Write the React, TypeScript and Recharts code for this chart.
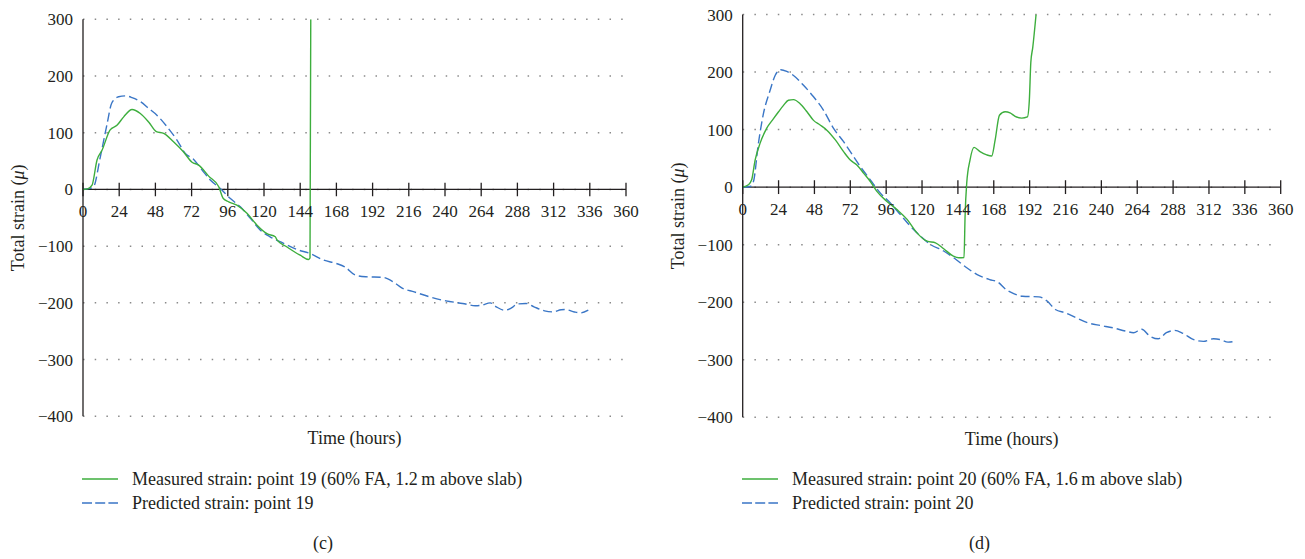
import React from 'react';
import { LineChart, Line, XAxis, YAxis, CartesianGrid, ReferenceLine, Legend } from 'recharts';

// ---------- axis values ----------
const TIME_TICKS = [0, 24, 48, 72, 96, 120, 144, 168, 192, 216, 240, 264, 288, 312, 336, 360];
const STRAIN_TICKS = [-400, -300, -200, -100, 0, 100, 200, 300];
const TIME_DOMAIN: [number, number] = [0, 360];
const STRAIN_DOMAIN: [number, number] = [-400, 300];

// ---------- series (t = hours, v = microstrain) ----------
const measured19 = [
  { t: 0, v: 0 }, { t: 3, v: 1 }, { t: 6, v: 7.6 }, { t: 9.3, v: 52 }, { t: 12.6, v: 69 },
  { t: 18, v: 105 }, { t: 22.5, v: 113 }, { t: 27, v: 128 }, { t: 32.5, v: 141 }, { t: 38, v: 134 },
  { t: 43.5, v: 119 }, { t: 48.6, v: 102 }, { t: 53.5, v: 99 }, { t: 60, v: 84 }, { t: 66.7, v: 66 },
  { t: 72.3, v: 48 }, { t: 76.7, v: 43 }, { t: 83.3, v: 23.5 }, { t: 90, v: 4.7 }, { t: 93, v: -16 },
  { t: 96.6, v: -21.8 }, { t: 102, v: -27.6 }, { t: 108.7, v: -42 }, { t: 115.4, v: -63 }, { t: 122, v: -78 },
  { t: 127.5, v: -83.5 }, { t: 128.6, v: -89 }, { t: 135, v: -101 }, { t: 144, v: -116 }, { t: 149.6, v: -123.5 },
  { t: 150.5, v: -121 }, { t: 151, v: 300 },
];

const predicted19 = [
  { t: 0, v: 0 }, { t: 4.9, v: 1.8 }, { t: 7, v: 4.7 }, { t: 11.5, v: 57.6 }, { t: 16, v: 116 },
  { t: 19, v: 152 }, { t: 23.6, v: 163.5 }, { t: 28, v: 165 }, { t: 32.5, v: 162 }, { t: 38, v: 155 },
  { t: 43.5, v: 143 }, { t: 49, v: 131 }, { t: 55.7, v: 110.6 }, { t: 62.3, v: 87 }, { t: 67.8, v: 63.5 },
  { t: 73.4, v: 53 }, { t: 79, v: 34 }, { t: 84.4, v: 16.5 }, { t: 91, v: 1.8 }, { t: 97.7, v: -16 },
  { t: 104.3, v: -30.6 }, { t: 111, v: -51 }, { t: 117.6, v: -71.8 }, { t: 124, v: -83.5 }, { t: 133, v: -95 },
  { t: 141.9, v: -106 }, { t: 150.7, v: -113 }, { t: 159.6, v: -124.7 }, { t: 168, v: -130.6 }, { t: 173.6, v: -136.5 },
  { t: 180.6, v: -151 }, { t: 187.5, v: -154 }, { t: 198.7, v: -155 }, { t: 205.7, v: -163 }, { t: 211.3, v: -173.5 },
  { t: 219.6, v: -180.6 }, { t: 229.4, v: -189 }, { t: 240.6, v: -196.5 }, { t: 251.7, v: -201 }, { t: 260, v: -205 },
  { t: 264.3, v: -204 }, { t: 270, v: -200 }, { t: 274, v: -207 }, { t: 279.6, v: -213 }, { t: 284, v: -209 },
  { t: 288, v: -202 }, { t: 293.6, v: -201 }, { t: 299, v: -207 }, { t: 306, v: -214 }, { t: 311.7, v: -215.9 },
  { t: 317, v: -212 }, { t: 320, v: -211.8 }, { t: 325.8, v: -216 }, { t: 330, v: -217.6 }, { t: 335, v: -213 },
];

const measured20 = [
  { t: 0, v: 0 }, { t: 3.8, v: 4 }, { t: 6, v: 12.7 }, { t: 8.3, v: 47 }, { t: 11.6, v: 76 },
  { t: 16, v: 102 }, { t: 20.6, v: 119 }, { t: 24, v: 131 }, { t: 27.3, v: 142 }, { t: 30.6, v: 151 },
  { t: 34, v: 152 }, { t: 38.4, v: 145 }, { t: 43, v: 131 }, { t: 47.4, v: 116 }, { t: 51.8, v: 108 },
  { t: 56.3, v: 99 }, { t: 62, v: 82 }, { t: 67.5, v: 61.7 }, { t: 72, v: 47 }, { t: 76.4, v: 38.6 },
  { t: 81, v: 24 }, { t: 85.4, v: 9.8 }, { t: 89.8, v: -7.5 }, { t: 96.5, v: -24.8 }, { t: 103.2, v: -39 },
  { t: 110, v: -56 }, { t: 116.6, v: -79.5 }, { t: 123.4, v: -94 }, { t: 129, v: -96.8 }, { t: 134.5, v: -107 },
  { t: 141, v: -120 }, { t: 144.6, v: -122.8 }, { t: 148.1, v: -122.5 }, { t: 148.8, v: -50.5 }, { t: 149.9, v: 7 },
  { t: 152.1, v: 47 }, { t: 154.8, v: 69 }, { t: 158.8, v: 61.7 }, { t: 163.3, v: 56 }, { t: 166.6, v: 54 },
  { t: 168.9, v: 81.6 }, { t: 171.8, v: 125 }, { t: 175.6, v: 131 }, { t: 178.9, v: 129 }, { t: 182.3, v: 123 },
  { t: 186.7, v: 120 }, { t: 190.5, v: 122 }, { t: 191.8, v: 151 }, { t: 192.8, v: 217 }, { t: 194.1, v: 243 },
  { t: 196.3, v: 300 },
];

const predicted20 = [
  { t: 0, v: 0 }, { t: 4.9, v: 1.1 }, { t: 7.2, v: 9.8 }, { t: 10.5, v: 76 }, { t: 13.9, v: 128 },
  { t: 18.3, v: 168 }, { t: 21.7, v: 194 }, { t: 25.5, v: 204 }, { t: 29.5, v: 201 }, { t: 34, v: 194 },
  { t: 40.7, v: 177 }, { t: 47.4, v: 157 }, { t: 54, v: 134 }, { t: 60.8, v: 102 }, { t: 67.5, v: 79 },
  { t: 74.2, v: 53 }, { t: 78.7, v: 35.7 }, { t: 85.4, v: 12.7 }, { t: 92, v: -10 }, { t: 98.8, v: -27.6 },
  { t: 105.5, v: -47.8 }, { t: 112.2, v: -68 }, { t: 118.9, v: -85 }, { t: 125.6, v: -99.7 }, { t: 134.5, v: -111 },
  { t: 141.2, v: -122.8 }, { t: 148.6, v: -137.6 }, { t: 156.9, v: -152 }, { t: 165.2, v: -160.7 }, { t: 170.7, v: -165 },
  { t: 176.2, v: -178 }, { t: 181.7, v: -185.5 }, { t: 187.2, v: -189.6 }, { t: 198.2, v: -190.8 }, { t: 203.7, v: -198 },
  { t: 209.2, v: -212.7 }, { t: 216, v: -218.5 }, { t: 223, v: -227 }, { t: 231, v: -235.8 }, { t: 239.5, v: -240.5 },
  { t: 247.7, v: -244.5 }, { t: 256, v: -250 }, { t: 261.5, v: -253 }, { t: 267, v: -247 }, { t: 272.5, v: -259 },
  { t: 278, v: -263.6 }, { t: 283.5, v: -253 }, { t: 289, v: -249 }, { t: 294.5, v: -254 }, { t: 301.4, v: -264.7 },
  { t: 308.3, v: -268 }, { t: 315, v: -263.6 }, { t: 319.3, v: -264.7 }, { t: 324.8, v: -269.4 }, { t: 330.3, v: -267.6 },
];

// ---------- labels ----------
const LABELS_C = {
  measured: 'Measured strain: point 19 (60% FA, 1.2\u2009m above slab)',
  predicted: 'Predicted strain: point 19',
  caption: '(c)',
};
const LABELS_D = {
  measured: 'Measured strain: point 20 (60% FA, 1.6\u2009m above slab)',
  predicted: 'Predicted strain: point 20',
  caption: '(d)',
};

// ---------- styles ----------
const FONT = '"Liberation Serif", "DejaVu Serif", "Times New Roman", serif';
const INK = '#231f20';
const GREEN = '#3DAE3D';
const BLUE = '#3A76C6';
const GRID = '#8a8a8a';
const DASH = '9 4';
const LEGEND_DASH = '10 3.2';
const TICK_HALF = 12; // half tick length, in strain units

const fmt = (v: number) => String(v).replace('-', '\u2212');

function YTitle(props: any) {
  const vb = props.viewBox || { x: 0, y: 0, width: 0, height: 0 };
  const cx = vb.x + 18;
  const cy = vb.y + vb.height / 2;
  return (
    <text x={cx} y={cy} transform={`rotate(-90 ${cx} ${cy})`} textAnchor="middle" dominantBaseline="central"
      fontSize={18} fill={INK} fontFamily={FONT}>
      Total strain (<tspan fontStyle="italic">μ</tspan>)
    </text>
  );
}

function XTitle(props: any) {
  const vb = props.viewBox || { x: 0, y: 0, width: 0, height: 0 };
  return (
    <text x={vb.x + vb.width / 2} y={vb.y + 22} textAnchor="middle" dominantBaseline="central"
      fontSize={18} fill={INK} fontFamily={FONT}>
      Time (hours)
    </text>
  );
}

type Item = { label: string; color: string; dash?: string };

function LegendRows({ items }: { items: Item[] }) {
  return (
    <div style={{ fontFamily: FONT }}>
      {items.map((it) => (
        <div key={it.label} style={{ display: 'flex', alignItems: 'center', height: 24 }}>
          <svg width={36} height={6} style={{ marginLeft: 82, display: 'block' }}>
            <line x1={0} y1={3} x2={36} y2={3} stroke={it.color} strokeWidth={1.4} strokeDasharray={it.dash} />
          </svg>
          <span style={{ marginLeft: 14, fontSize: 18, color: INK, whiteSpace: 'nowrap', lineHeight: '20px' }}>
            {it.label}
          </span>
        </div>
      ))}
    </div>
  );
}

type PanelProps = {
  left: number;
  width: number;
  plotLeft: number;
  plotRight: number;
  plotTop: number;
  plotBottom: number;
  captionX: number;
  measured: { t: number; v: number }[];
  predicted: { t: number; v: number }[];
  labels: { measured: string; predicted: string; caption: string };
};

const H = 559;
const XAXIS_H = 40;

function Panel(p: PanelProps) {
  const items: Item[] = [
    { label: p.labels.measured, color: GREEN },
    { label: p.labels.predicted, color: BLUE, dash: LEGEND_DASH },
  ];
  return (
    <div style={{ position: 'absolute', left: p.left, top: 0, width: p.width, height: H }}>
      <LineChart
        width={p.width}
        height={H}
        margin={{ top: p.plotTop, right: p.width - p.plotRight, bottom: H - p.plotBottom - XAXIS_H, left: 0 }}
      >
        <CartesianGrid vertical={false} stroke={GRID} strokeWidth={1.5} strokeDasharray="1.5 10.2" />
        <XAxis
          dataKey="t"
          type="number"
          domain={TIME_DOMAIN}
          ticks={TIME_TICKS}
          allowDataOverflow
          height={XAXIS_H}
          axisLine={false}
          tickLine={false}
          tick={false}
          label={<XTitle />}
        />
        <YAxis
          type="number"
          domain={STRAIN_DOMAIN}
          ticks={STRAIN_TICKS}
          interval={0}
          allowDataOverflow
          width={p.plotLeft}
          stroke={INK}
          strokeWidth={1.3}
          tickLine={false}
          tickSize={0}
          tickMargin={10}
          tickFormatter={fmt}
          tick={{ fill: INK, fontSize: 17, fontFamily: FONT }}
          label={<YTitle />}
        />
        <ReferenceLine y={0} stroke={INK} strokeWidth={1.3} />
        {TIME_TICKS.map((t) => (
          <ReferenceLine
            key={`tick-${t}`}
            segment={[{ x: t, y: -TICK_HALF }, { x: t, y: TICK_HALF }]}
            stroke={INK}
            strokeWidth={1.3}
            label={{ value: String(t), position: 'bottom', offset: 9, fill: INK, fontSize: 17, fontFamily: FONT }}
          />
        ))}
        <Line
          data={p.predicted}
          dataKey="v"
          name={p.labels.predicted}
          type="monotone"
          stroke={BLUE}
          strokeWidth={1.4}
          strokeDasharray={DASH}
          dot={false}
          activeDot={false}
          isAnimationActive={false}
        />
        <Line
          data={p.measured}
          dataKey="v"
          name={p.labels.measured}
          type="monotone"
          stroke={GREEN}
          strokeWidth={1.4}
          dot={false}
          activeDot={false}
          isAnimationActive={false}
        />
        <Legend
          layout="horizontal"
          verticalAlign="middle"
          align="center"
          wrapperStyle={{ position: 'absolute', left: 0, top: 467, width: p.width, height: 48 }}
          content={() => <LegendRows items={items} />}
        />
      </LineChart>
      <div
        style={{
          position: 'absolute', left: p.captionX - 50, top: 531, width: 100, textAlign: 'center',
          fontFamily: FONT, fontSize: 18, color: INK, lineHeight: '24px',
        }}
      >
        {p.labels.caption}
      </div>
    </div>
  );
}

export default function App() {
  return (
    <div style={{ position: 'absolute', left: 0, top: 0, width: 1305, height: H, background: '#fff', overflow: 'hidden' }}>
      <Panel left={0} width={660} plotLeft={83} plotRight={626} plotTop={19.3} plotBottom={416.3}
        captionX={323} measured={measured19} predicted={predicted19} labels={LABELS_C} />
      <Panel left={660} width={645} plotLeft={82.7} plotRight={620.7} plotTop={14.5} plotBottom={417.3}
        captionX={319.5} measured={measured20} predicted={predicted20} labels={LABELS_D} />
    </div>
  );
}
